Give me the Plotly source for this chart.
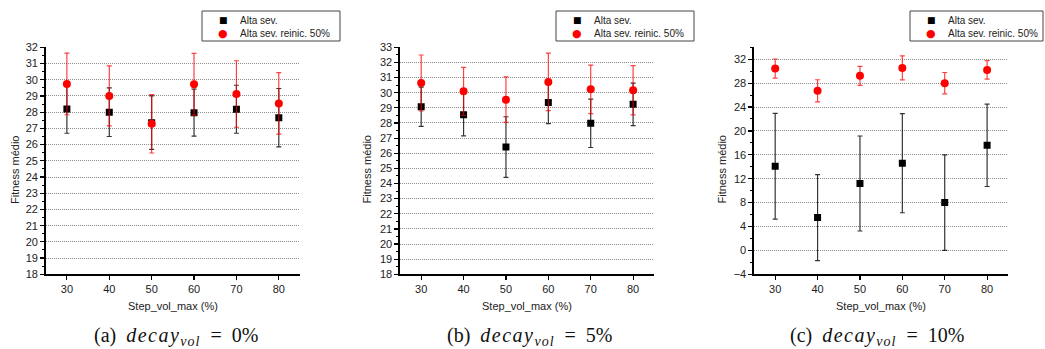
import plotly.graph_objects as go

W, H = 1045, 349

steps = [30, 40, 50, 60, 70, 80]
series_names = ["Alta sev.", "Alta sev. reinic. 50%"]

# Panel (a): decay_vol = 0%
a_alta = [28.2, 28.0, 27.35, 27.97, 28.18, 27.66]
a_alta_err = [1.5, 1.5, 1.65, 1.45, 1.48, 1.8]
a_reinic = [29.74, 29.0, 27.28, 29.72, 29.12, 28.54]
a_reinic_err = [1.9, 1.85, 1.8, 1.9, 2.05, 1.9]

# Panel (b): decay_vol = 5%
b_alta = [29.07, 28.55, 26.41, 29.36, 27.98, 29.23]
b_alta_err = [1.3, 1.4, 2.0, 1.4, 1.6, 1.4]
b_reinic = [30.64, 30.09, 29.54, 30.71, 30.22, 30.16]
b_reinic_err = [1.85, 1.58, 1.5, 1.9, 1.6, 1.63]

# Panel (c): decay_vol = 10%
c_alta = [14.1, 5.5, 11.2, 14.6, 8.0, 17.6]
c_alta_err = [8.85, 7.2, 7.95, 8.3, 8.0, 6.9]
c_reinic = [30.44, 26.72, 29.22, 30.55, 28.0, 30.22]
c_reinic_err = [1.6, 1.85, 1.6, 2.0, 1.78, 1.55]

caption_labels = ["(a)", "(b)", "(c)"]
caption_values = ["0%", "5%", "10%"]
x_title = "Step_vol_max (%)"
y_title = "Fitness médio"

panels = [
    dict(alta=a_alta, alta_err=a_alta_err, rein=a_reinic, rein_err=a_reinic_err,
         yrange=[18, 32], dtick=1, minor=0.5, grid=list(range(19, 32))),
    dict(alta=b_alta, alta_err=b_alta_err, rein=b_reinic, rein_err=b_reinic_err,
         yrange=[18, 33], dtick=1, minor=0.5, grid=list(range(19, 33))),
    dict(alta=c_alta, alta_err=c_alta_err, rein=c_reinic, rein_err=c_reinic_err,
         yrange=[-4, 34], dtick=4, minor=2, grid=list(range(0, 33, 4))),
]

# pixel layout
x_left = [45.7, 400.0, 754.0]
x_right = [300.0, 654.3, 1008.3]
y_top, y_bot = 47.3, 274.3
legend_left = [202, 556, 910]
legend_right = [340, 694, 1043]
caption_cx = [176, 530, 877]
ytitle_cx = [15, 366.5, 721.5]

FONT = "Liberation Sans, Arial, sans-serif"
SERIF = "Liberation Serif, Times New Roman, serif"


def px(x):
    return x / W


def py(y):
    return 1 - y / H


fig = go.Figure()
annotations = []
shapes = []
layout = dict(
    width=W, height=H, margin=dict(l=0, r=0, t=0, b=0, autoexpand=False),
    paper_bgcolor="white", plot_bgcolor="rgba(0,0,0,0)",
    font=dict(family=FONT, size=11, color="black"),
    showlegend=False,
)

for i, p in enumerate(panels):
    n = i + 1
    xa = "x" if n == 1 else f"x{n}"
    ya = "y" if n == 1 else f"y{n}"
    fig.add_trace(go.Scatter(
        x=steps, y=p["alta"], mode="markers", name=series_names[0],
        marker=dict(symbol="square", size=7, color="black"),
        error_y=dict(type="data", array=p["alta_err"], visible=True,
                     color="rgba(0,0,0,0.8)", thickness=1.2, width=2.5),
        xaxis=xa, yaxis=ya,
    ))
    fig.add_trace(go.Scatter(
        x=steps, y=p["rein"], mode="markers", name=series_names[1],
        marker=dict(symbol="circle", size=8, color="#ff0000"),
        error_y=dict(type="data", array=p["rein_err"], visible=True,
                     color="rgba(255,0,0,0.75)", thickness=1.2, width=2.5),
        xaxis=xa, yaxis=ya,
    ))
    dom_x = [px(x_left[i]), px(x_right[i])]
    dom_y = [py(y_bot), py(y_top)]
    layout["xaxis" if n == 1 else f"xaxis{n}"] = dict(
        domain=dom_x, range=[25, 85], anchor=ya, tickmode="array", tickvals=steps,
        showline=True, linecolor="black", linewidth=1.6, ticks="outside",
        ticklen=4, tickwidth=1.2, tickcolor="black", showgrid=False, zeroline=False,
        tickfont=dict(size=11, color="#222"), fixedrange=True,
    )
    layout["yaxis" if n == 1 else f"yaxis{n}"] = dict(
        domain=dom_y, range=p["yrange"], anchor=xa, dtick=p["dtick"], tick0=0,
        showline=True, linecolor="black", linewidth=1.6, ticks="outside",
        ticklen=4, tickwidth=1.2, tickcolor="black", showgrid=False, zeroline=False,
        minor=dict(dtick=p["minor"], tick0=0, ticks="outside", ticklen=2,
                   tickwidth=1, tickcolor="black", showgrid=False),
        tickfont=dict(size=11, color="#222"), fixedrange=True,
    )
    # overlay axis used only to draw the dotted grid
    g = n + 3
    layout[f"yaxis{g}"] = dict(
        domain=dom_y, range=p["yrange"], overlaying=ya, anchor=xa,
        tickmode="array", tickvals=p["grid"], showticklabels=False, ticks="",
        showgrid=True, gridcolor="#8c8c8c", griddash="1px,1px", gridwidth=1,
        showline=False, zeroline=False, fixedrange=True,
    )
    fig.add_trace(go.Scatter(x=[None], y=[None], xaxis=xa, yaxis=f"y{g}",
                             showlegend=False, hoverinfo="skip"))

    # legend box (drawn manually for compact rows)
    L = legend_left[i]
    shapes.append(dict(type="rect", xref="paper", yref="paper",
                       x0=px(L), x1=px(legend_right[i]), y0=py(41), y1=py(11),
                       line=dict(color="#444", width=1), fillcolor="white", layer="above"))
    for row, (glyph, col, gsize, name) in enumerate([
        ("■", "black", 9, series_names[0]),
        ("●", "#ff0000", 11, series_names[1]),
    ]):
        yy = 20 if row == 0 else 33.3
        annotations.append(dict(
            x=px(L + 21), y=py(yy), xref="paper", yref="paper", text=glyph,
            showarrow=False, xanchor="center", yanchor="middle",
            font=dict(size=gsize, color=col, family="DejaVu Sans"),
        ))
        annotations.append(dict(
            x=px(L + 35.5), y=py(yy), xref="paper", yref="paper", text=name,
            showarrow=False, xanchor="left", yanchor="middle",
            font=dict(size=10, color="#222"),
        ))

    cx = (x_left[i] + x_right[i]) / 2
    annotations.append(dict(
        x=px(cx), y=py(306), xref="paper", yref="paper", text=x_title,
        showarrow=False, xanchor="center", yanchor="middle",
        font=dict(size=11, color="#222"),
    ))
    annotations.append(dict(
        x=px(ytitle_cx[i]), y=py(170), xref="paper", yref="paper", text=y_title,
        showarrow=False, xanchor="center", yanchor="middle", textangle=-90,
        font=dict(size=11, color="#222"),
    ))
    cap = (f"{caption_labels[i]}&nbsp;&nbsp;<i><span style='letter-spacing:1.5px'>decay</span></i>"
           f"<sub><i><span style='letter-spacing:1px'>vol</span></i></sub>&nbsp;&nbsp;=&nbsp;&nbsp;{caption_values[i]}")
    annotations.append(dict(
        x=px(caption_cx[i]), y=py(336), xref="paper", yref="paper", text=cap,
        showarrow=False, xanchor="center", yanchor="middle",
        font=dict(size=20, family=SERIF, color="#111"),
    ))

layout["annotations"] = annotations
layout["shapes"] = shapes
fig.update_layout(**layout)
fig.write_html("out.html", config={"displayModeBar": False, "staticPlot": True})

# remove the browser's default 8px body margin so the figure fills the window
with open("out.html", "r", encoding="utf-8") as f:
    html = f.read()
html = html.replace("<head>", "<head><style>html,body{margin:0;padding:0;overflow:hidden;}</style>", 1)
with open("out.html", "w", encoding="utf-8") as f:
    f.write(html)
